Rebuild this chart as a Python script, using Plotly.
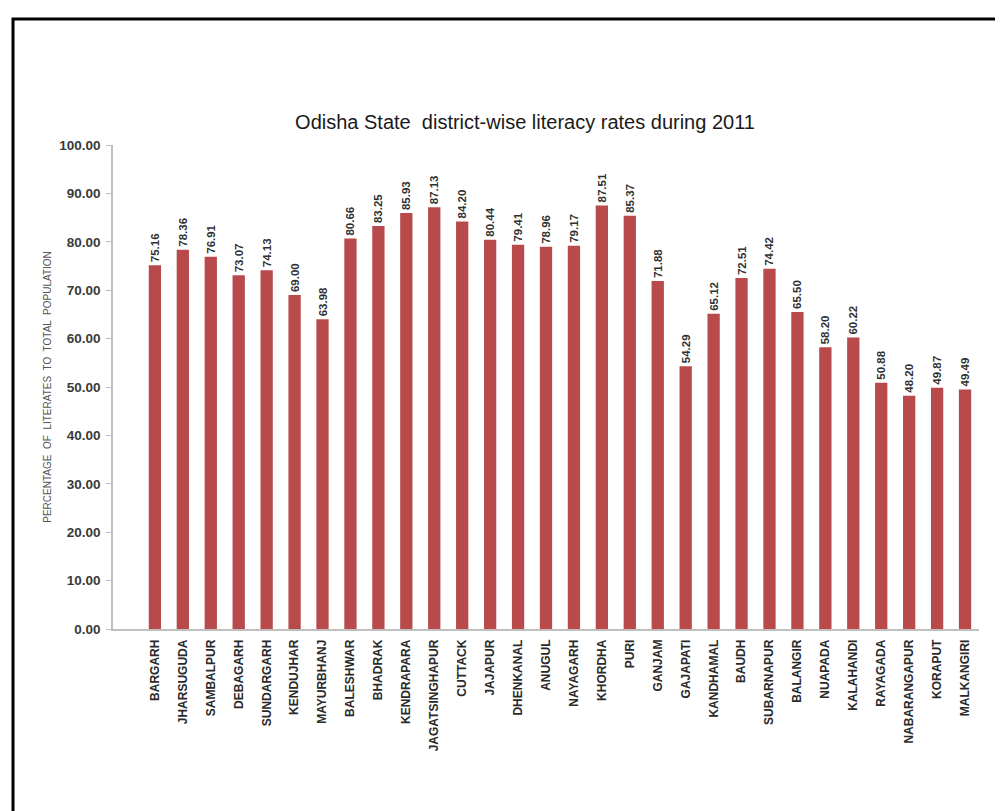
import plotly.graph_objects as go

districts = ["BARGARH", "JHARSUGUDA", "SAMBALPUR", "DEBAGARH", "SUNDARGARH", "KENDUJHAR",
             "MAYURBHANJ", "BALESHWAR", "BHADRAK", "KENDRAPARA", "JAGATSINGHAPUR", "CUTTACK",
             "JAJAPUR", "DHENKANAL", "ANUGUL", "NAYAGARH", "KHORDHA", "PURI", "GANJAM",
             "GAJAPATI", "KANDHAMAL", "BAUDH", "SUBARNAPUR", "BALANGIR", "NUAPADA",
             "KALAHANDI", "RAYAGADA", "NABARANGAPUR", "KORAPUT", "MALKANGIRI"]
literacy = [75.16, 78.36, 76.91, 73.07, 74.13, 69.00, 63.98, 80.66, 83.25, 85.93, 87.13, 84.20,
            80.44, 79.41, 78.96, 79.17, 87.51, 85.37, 71.88, 54.29, 65.12, 72.51, 74.42, 65.50,
            58.20, 60.22, 50.88, 48.20, 49.87, 49.49]
y_ticks = [0, 10, 20, 30, 40, 50, 60, 70, 80, 90, 100]

# page has an 8px body margin, so the figure is drawn 8px in from the window edge
OFF = 8
W, H = 1003 - OFF, 811 - OFF
ml = 113 - OFF
mt = 145 - OFF
mr = W - (979 - OFF)
mb = H - (629 - OFF)
pw = W - ml - mr
ph = H - mt - mb

narrow = "Liberation Sans Narrow, Arial Narrow, Liberation Sans, Arial"

fig = go.Figure(go.Bar(
    x=list(range(len(districts))),
    y=literacy,
    marker=dict(color="#B84A4B", line=dict(width=0)),
    width=0.44,
    text=[f"{v:.2f}" for v in literacy],
    textposition="outside",
    textangle=-90,
    constraintext="none",
    cliponaxis=False,
    textfont=dict(family=narrow, size=11.5, color="#303030", weight="bold"),
))

fig.update_layout(
    width=W, height=H,
    margin=dict(l=ml, r=mr, t=mt, b=mb, pad=0),
    paper_bgcolor="white", plot_bgcolor="white",
    showlegend=False,
    title=dict(text="Odisha State  district-wise literacy rates during 2011",
               x=(525 - OFF) / W, xanchor="center", y=1 - (122 - OFF) / H, yanchor="middle",
               font=dict(family="Liberation Sans, Arial", size=20, color="#1a1a1a")),
    xaxis=dict(
        range=[-1.5, 29.5],
        tickmode="array",
        tickvals=list(range(len(districts))),
        ticktext=districts,
        tickangle=-90,
        tickfont=dict(family=narrow, size=12, color="#2a2a2a", weight="bold"),
        showline=True, linecolor="#BFBFBF", linewidth=1.5,
        ticks="", showgrid=False, zeroline=False,
        ticklabelstandoff=4,
    ),
    yaxis=dict(
        range=[0, 100],
        tickmode="array",
        tickvals=y_ticks,
        ticktext=[f"{v:.2f}" for v in y_ticks],
        tickfont=dict(family=narrow, size=13.5, color="#3a3a3a", weight="bold"),
        showline=True, linecolor="#BFBFBF", linewidth=1.5,
        ticks="outside", ticklen=5, tickcolor="#BFBFBF",
        ticklabelstandoff=3,
        showgrid=False, zeroline=False,
        title=dict(text="PERCENTAGE  OF  LITERATES  TO  TOTAL  POPULATION",
                   font=dict(family="Liberation Sans, Arial", size=10, color="#555555"),
                   standoff=6),
    ),
)

# outer frame (black border, open at right/bottom edges of the image)
fx0 = (13 - OFF - ml) / pw
fx1 = (W + 12 - ml) / pw
fy1 = (H - mb - (19 - OFF)) / ph
fy0 = (H - mb - (H + 12)) / ph
fig.add_shape(type="rect", xref="paper", yref="paper",
              x0=fx0, x1=fx1, y0=fy0, y1=fy1,
              line=dict(color="black", width=3), fillcolor="rgba(0,0,0,0)", layer="above")

fig.write_html("out.html")
